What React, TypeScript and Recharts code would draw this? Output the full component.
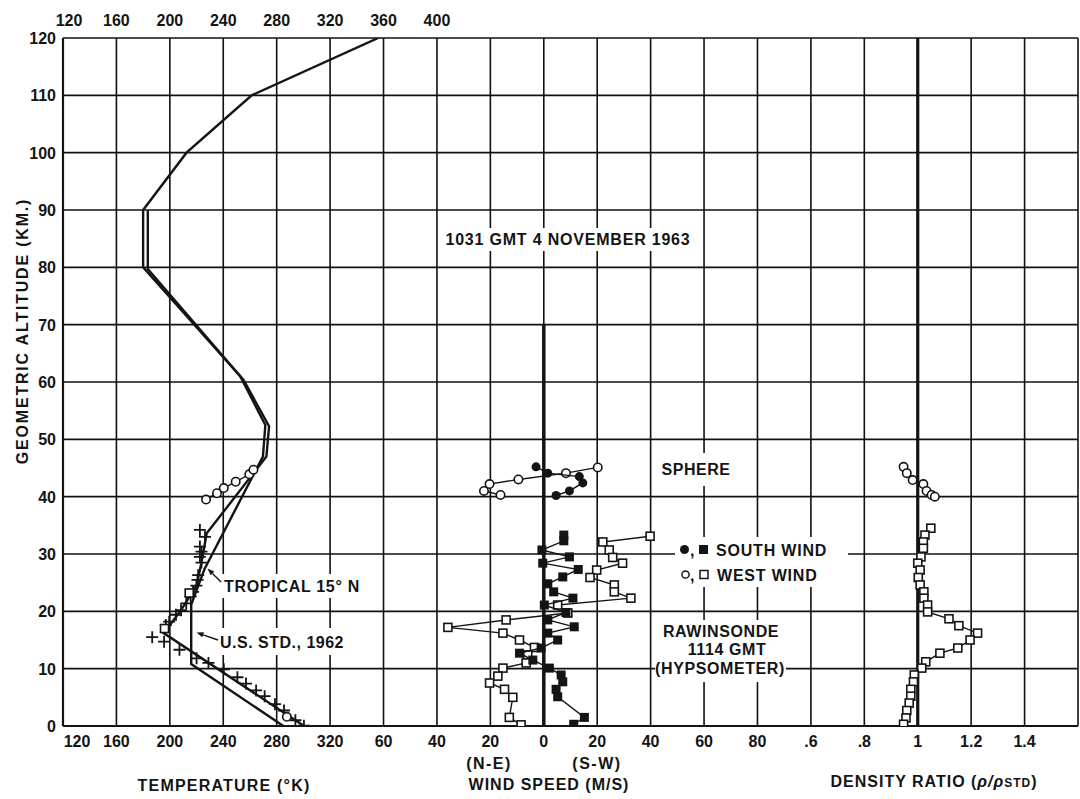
import {
  ComposedChart,
  Scatter,
  XAxis,
  YAxis,
  CartesianGrid,
  ReferenceLine,
  Customized,
} from "recharts";

const FONT = "'Liberation Sans', Arial, sans-serif";
const INK = "#141414";

// axes
const altitudeTicks = [0, 10, 20, 30, 40, 50, 60, 70, 80, 90, 100, 110, 120];
const gridTicks = [
  120, 160, 200, 240, 280, 320, 360, 400, 440, 480, 520, 560, 600, 640, 680, 720, 760, 800, 840, 880,
];
const bottomLabels = [
  "120", "160", "200", "240", "280", "320", "60", "40", "20", "0", "20", "40", "60", "80",
  ".6", ".8", "1", "1.2", "1.4", "",
];
const topTicks = [120, 160, 200, 240, 280, 320, 360, 400];

// temperature profiles: [altitude km, temperature K]
const usStd1962: [number, number][] = [
  [0, 285], [10.8, 216], [21.2, 216], [27.4, 226], [47, 269.7], [52.5, 271.5],
  [61, 252.7], [80, 180], [90, 180], [100, 212.5], [110, 261.3], [120, 356],
];
const tropical15N: [number, number][] = [
  [0, 300.5], [16.2, 195.4], [20.2, 208.4], [24.5, 220], [28.5, 223.7], [33.6, 227.6],
  [47, 272.3], [52.3, 274.3], [60.3, 255.3], [79.7, 183.5], [90, 183.5],
];
const rawinsondeTemp: [number, number][] = [
  [34.2, 222.5], [33.0, 226.3], [31.3, 222.5], [30.4, 223.7], [29.5, 222.5], [28.5, 223.7],
  [26.3, 221.2], [25.5, 220.7], [24.5, 219.9], [23.4, 217.4], [22.6, 215.6], [21.4, 212.3],
  [20.2, 208.4], [19.4, 204.6], [18.2, 199.5], [17.6, 197], [15.5, 186.8], [14.7, 195.7],
  [13.3, 207.2], [11.8, 220], [11.0, 228.9], [9.9, 240.4], [8.5, 250.6], [7.4, 257],
  [6.2, 264.6], [5.2, 271], [3.8, 278.7], [2.7, 285.5], [1.0, 294], [0.05, 300.4],
];
const rawinsondeTempBoxes: [number, number][] = [[23.2, 214.5], [17.0, 196]];
const sphereTemp: [number, number][] = [
  [39.5, 227.1], [40.6, 235.3], [41.5, 240.4], [42.6, 249.3], [43.9, 259.5], [44.7, 262.6],
];
const surfaceTemp: [number, number][] = [[1.6, 287.6]];

// wind: [altitude km, speed m/s]  (negative = N-E, positive = S-W)
const sphereSouth: [number, number][] = [
  [45.2, -2.9], [44.1, 1.5], [43.5, 13.3], [42.4, 14.6], [41.0, 9.6], [40.2, 4.6],
];
const sphereWest: [number, number][] = [
  [45.1, 20.2], [44.1, 8.3], [43.0, -9.5], [42.2, -20.3], [41.0, -22.4], [40.3, -16.2],
];
const rawinSouth: [number, number][] = [
  [33.3, 7.5], [32.3, 7.5], [30.7, -0.7], [29.5, 9.6], [28.4, -0.4], [27.3, 12.9],
  [26.0, 7.1], [24.8, 1.5], [23.4, 3.7], [22.3, 10.9], [21.1, 0.2], [19.8, 8.3],
  [18.5, 1.5], [17.3, 11.4], [16.2, 1.5], [15.0, 5.2], [13.6, -1.0], [12.7, -9.1],
  [11.5, -4.1], [10.1, 2.1], [8.9, 6.5], [7.7, 7.1], [6.4, 4.6], [5.1, 5.2],
  [1.5, 15.2], [0.3, 11.2],
];
const rawinWest: [number, number][] = [
  [33.1, 39.8], [32.1, 22.1], [30.7, 24.5], [29.4, 25.8], [28.4, 29.5], [27.2, 19.8],
  [25.9, 17.3], [24.6, 26.4], [23.4, 26.4], [22.3, 32.6], [21.1, 5.2], [19.7, 9.0],
  [18.5, -14.1], [17.2, -35.9], [16.2, -15.3], [15.0, -9.1], [13.7, -3.5], [12.4, -6.0],
  [11.0, -6.6], [10.1, -15.3], [8.7, -17.2], [7.5, -20.3], [6.4, -14.7], [5.0, -11.6],
  [1.5, -12.9], [0.2, -8.5],
];

// density ratio: [altitude km, rho / rho std]
const sphereDensity: [number, number][] = [
  [45.2, 0.947], [44.1, 0.959], [42.9, 0.981], [42.2, 1.021], [41.0, 1.033], [40.3, 1.052], [40.0, 1.064],
];
const rawinDensity: [number, number][] = [
  [34.5, 1.049], [33.3, 1.027], [32.1, 1.021], [31.0, 1.021], [29.5, 1.012], [28.4, 1.0],
  [27.2, 1.009], [25.9, 1.002], [24.6, 1.009], [23.4, 1.023], [22.3, 1.023], [21.1, 1.037],
  [19.9, 1.037], [18.7, 1.117], [17.5, 1.154], [16.2, 1.224], [15.0, 1.196], [13.6, 1.15],
  [12.7, 1.083], [11.2, 1.03], [10.1, 1.015], [8.9, 0.987], [7.7, 0.984], [6.4, 0.974],
  [5.2, 0.974], [4.0, 0.968], [2.7, 0.959], [1.4, 0.956], [0.3, 0.947],
];

const asTemp = (rows: [number, number][]) => rows.map(([alt, t]) => ({ alt, t }));
const asWind = (rows: [number, number][]) => rows.map(([alt, w]) => ({ alt, w }));
const asDens = (rows: [number, number][]) => rows.map(([alt, d]) => ({ alt, d }));

type Pt = { cx?: number; cy?: number };

const Nothing = () => <g />;
const Plus = ({ cx = 0, cy = 0 }: Pt) => (
  <path d={`M${cx - 6},${cy}H${cx + 6}M${cx},${cy - 6}V${cy + 6}`} stroke={INK} strokeWidth={1.8} />
);
const OpenCircle = ({ cx = 0, cy = 0 }: Pt) => (
  <circle cx={cx} cy={cy} r={4.2} fill="#fff" stroke={INK} strokeWidth={1.6} />
);
const FilledCircle = ({ cx = 0, cy = 0 }: Pt) => <circle cx={cx} cy={cy} r={4.5} fill={INK} />;
const OpenBox = ({ cx = 0, cy = 0 }: Pt) => (
  <rect x={cx - 4} y={cy - 4} width={8} height={8} fill="#fff" stroke={INK} strokeWidth={1.6} />
);
const FilledBox = ({ cx = 0, cy = 0 }: Pt) => (
  <rect x={cx - 4.5} y={cy - 4.5} width={9} height={9} fill={INK} />
);

const textStyle = { fontFamily: FONT, fontWeight: 700, fontSize: 16, fill: INK };

const BottomTick = (props: any) => {
  const { x, payload } = props;
  const i = gridTicks.indexOf(payload.value);
  return (
    <text x={x + (i === 0 ? 14 : 0)} y={747} textAnchor="middle" {...textStyle}>
      {bottomLabels[i] ?? ""}
    </text>
  );
};

const TopTick = (props: any) => {
  const { x, payload } = props;
  return (
    <text x={x + (payload.value === 120 ? 6 : 0)} y={26} textAnchor="middle" {...textStyle}>
      {payload.value}
    </text>
  );
};

const LeftTick = (props: any) => {
  const { y, payload } = props;
  return (
    <text x={56} y={y + 6} textAnchor="end" {...textStyle}>
      {payload.value}
    </text>
  );
};

function Arrow({ x1, y1, x2, y2 }: { x1: number; y1: number; x2: number; y2: number }) {
  const a = Math.atan2(y2 - y1, x2 - x1);
  const L = 7;
  const W = 2.6;
  const bx = x2 - L * Math.cos(a);
  const by = y2 - L * Math.sin(a);
  const px = -Math.sin(a) * W;
  const py = Math.cos(a) * W;
  return (
    <g>
      <line x1={x1} y1={y1} x2={bx} y2={by} stroke={INK} strokeWidth={1.4} />
      <path d={`M${x2},${y2}L${bx + px},${by + py}L${bx - px},${by - py}Z`} fill={INK} />
    </g>
  );
}

function Annotations() {
  return (
    <g {...textStyle}>
      <rect x={440} y={228} width={256} height={23} fill="#fff" />
      <rect x={656} y={453} width={80} height={33} fill="#fff" />
      <rect x={675} y={537} width={173} height={50} fill="#fff" />
      <rect x={655} y={620} width={131} height={62} fill="#fff" />
      <rect x={220} y={574} width={142} height={24} fill="#fff" />
      <rect x={217} y={628} width={135} height={27} fill="#fff" />

      <text x={568} y={245} textAnchor="middle" letterSpacing={0.8}>
        1031 GMT 4 NOVEMBER 1963
      </text>
      <text x={696} y={475} textAnchor="middle" letterSpacing={0.5}>
        SPHERE
      </text>

      <circle cx={684.5} cy={549.5} r={4.5} fill={INK} />
      <text x={690} y={556}>,</text>
      <rect x={699} y={545} width={9} height={9} fill={INK} />
      <text x={716} y={555.5} letterSpacing={0.8}>SOUTH WIND</text>
      <circle cx={685.5} cy={574.5} r={3.6} fill="#fff" stroke={INK} strokeWidth={1.5} />
      <text x={690} y={581}>,</text>
      <rect x={700} y={570.5} width={8} height={8} fill="#fff" stroke={INK} strokeWidth={1.5} />
      <text x={717} y={580.5} letterSpacing={0.8}>WEST WIND</text>

      <text x={721} y={637} textAnchor="middle" letterSpacing={0.6}>RAWINSONDE</text>
      <text x={727} y={655} textAnchor="middle" letterSpacing={0.6}>1114 GMT</text>
      <text x={720} y={674} textAnchor="middle" letterSpacing={0.6}>(HYPSOMETER)</text>

      <text x={224} y={592} letterSpacing={0.7}>TROPICAL 15° N</text>
      <text x={220} y={648} letterSpacing={0.5}>U.S. STD., 1962</text>
      <Arrow x1={221} y1={582} x2={207.5} y2={568.5} />
      <Arrow x1={218} y1={640} x2={196.5} y2={632.5} />

      <text x={224} y={791} textAnchor="middle" letterSpacing={1.2}>TEMPERATURE (°K)</text>
      <text x={489} y={769} textAnchor="middle" letterSpacing={1.5}>(N-E)</text>
      <text x={597} y={769} textAnchor="middle" letterSpacing={1.5}>(S-W)</text>
      <text x={549} y={790} textAnchor="middle" letterSpacing={1}>WIND SPEED (M/S)</text>
      <text x={934} y={787} textAnchor="middle" letterSpacing={1}>
        DENSITY RATIO (
        <tspan fontStyle="italic">ρ/ρ</tspan>
        <tspan fontSize={12}>STD</tspan>)
      </text>
      <text
        transform="translate(22,331) rotate(-90)"
        x={0}
        y={5.8}
        textAnchor="middle"
        letterSpacing={1.8}
      >
        GEOMETRIC ALTITUDE (KM.)
      </text>
    </g>
  );
}

const lineStyle = { stroke: INK, strokeWidth: 2.4 };
const thinLine = { stroke: INK, strokeWidth: 1.4 };

export default function App() {
  return (
    <div style={{ width: 1080, height: 799, background: "#fff" }}>
      <style>{"body{margin:0;background:#fff}"}</style>
      <ComposedChart
        width={1080}
        height={799}
        margin={{ top: 0, right: 2, bottom: 0, left: 0 }}
      >
        <CartesianGrid xAxisId="temp" stroke="#111" strokeWidth={1.6} />
        <XAxis
          xAxisId="temp"
          dataKey="t"
          type="number"
          domain={[120, 880]}
          allowDataOverflow
          ticks={gridTicks}
          interval={0}
          height={73}
          axisLine={false}
          tickLine={false}
          tick={<BottomTick />}
        />
        <XAxis
          xAxisId="top"
          orientation="top"
          dataKey="t"
          type="number"
          domain={[120, 880]}
          allowDataOverflow
          ticks={topTicks}
          interval={0}
          height={38}
          axisLine={false}
          tickLine={false}
          tick={<TopTick />}
        />
        <XAxis xAxisId="wind" dataKey="w" type="number" domain={[-180, 200]} allowDataOverflow hide />
        <XAxis xAxisId="dens" dataKey="d" type="number" domain={[-2.2, 1.6]} allowDataOverflow hide />
        <YAxis
          dataKey="alt"
          type="number"
          domain={[0, 120]}
          allowDataOverflow
          ticks={altitudeTicks}
          interval={0}
          width={63}
          axisLine={false}
          tickLine={false}
          tick={<LeftTick />}
        />

        <ReferenceLine xAxisId="temp" x={120} stroke={INK} strokeWidth={2.2} />
        <ReferenceLine xAxisId="temp" y={0} stroke={INK} strokeWidth={2.2} />
        <ReferenceLine
          xAxisId="wind"
          segment={[{ x: 0, y: 0 }, { x: 0, y: 70 }]}
          stroke={INK}
          strokeWidth={3.5}
        />
        <ReferenceLine xAxisId="dens" x={1} stroke={INK} strokeWidth={3.2} />

        <Customized component={Annotations} />

        <Scatter xAxisId="temp" data={asTemp(usStd1962)} line={lineStyle} shape={Nothing} isAnimationActive={false} />
        <Scatter xAxisId="temp" data={asTemp(tropical15N)} line={lineStyle} shape={Nothing} isAnimationActive={false} />
        <Scatter xAxisId="temp" data={asTemp(rawinsondeTemp)} shape={Plus} isAnimationActive={false} />
        <Scatter xAxisId="temp" data={asTemp(rawinsondeTempBoxes)} shape={OpenBox} isAnimationActive={false} />
        <Scatter xAxisId="temp" data={asTemp(sphereTemp)} line={thinLine} shape={OpenCircle} isAnimationActive={false} />
        <Scatter xAxisId="temp" data={asTemp(surfaceTemp)} shape={OpenCircle} isAnimationActive={false} />

        <Scatter xAxisId="wind" data={asWind(sphereWest)} line={thinLine} shape={OpenCircle} isAnimationActive={false} />
        <Scatter xAxisId="wind" data={asWind(sphereSouth)} line={thinLine} shape={FilledCircle} isAnimationActive={false} />
        <Scatter xAxisId="wind" data={asWind(rawinWest)} line={thinLine} shape={OpenBox} isAnimationActive={false} />
        <Scatter xAxisId="wind" data={asWind(rawinSouth)} line={thinLine} shape={FilledBox} isAnimationActive={false} />

        <Scatter xAxisId="dens" data={asDens(sphereDensity)} line={thinLine} shape={OpenCircle} isAnimationActive={false} />
        <Scatter xAxisId="dens" data={asDens(rawinDensity)} line={thinLine} shape={OpenBox} isAnimationActive={false} />
      </ComposedChart>
    </div>
  );
}
